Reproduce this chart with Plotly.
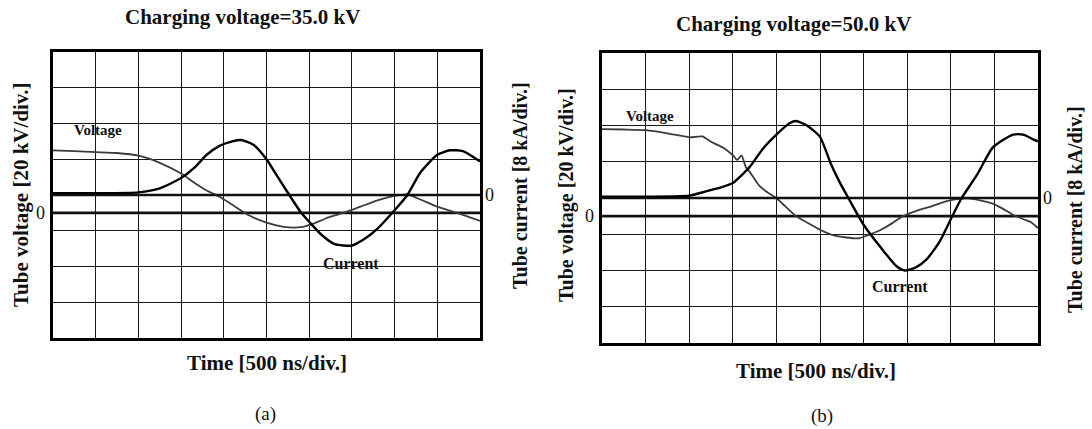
import plotly.graph_objects as go

W, H = 1092, 429

# ---------------- data (time in ns, 500 ns/div) ----------------
# Panel (a): charging voltage 35.0 kV
a_volt_t = [0, 250, 500, 750, 1000, 1250, 1500, 1650, 1800, 1950, 2100, 2300, 2500, 2700, 2900,
            3050, 3200, 3400, 3600, 3800, 4000, 4150, 4300, 4500, 4700, 4850, 5000]
a_volt_kv = [35, 34.5, 34, 33.5, 32, 28, 22, 17, 12.5, 9, 4.5, -1.5, -5.5, -7.8, -8,
             -6, -3, 0, 3.5, 7, 9.5, 10.3, 7.5, 3.5, 0.5, -2, -4.5]
a_curr_t = [0, 500, 1000, 1250, 1500, 1650, 1800, 1950, 2100, 2200, 2350, 2500, 2600, 2750, 2900,
            3000, 3150, 3300, 3500, 3650, 3800, 4000, 4150, 4300, 4500, 4650, 4800, 5000]
a_curr_ka = [0.4, 0.4, 0.6, 1.5, 3.8, 6, 9, 11, 12, 12.3, 11.2, 8, 5, 0.5, -3.8,
             -6, -9, -11, -11.3, -9.8, -7.5, -3.4, 0, 5, 9, 10, 9.8, 7.5]

# Panel (b): charging voltage 50.0 kV
b_volt_t = [0, 250, 500, 750, 1000, 1150, 1250, 1400, 1500, 1550, 1600, 1650, 1700, 1800, 1900,
            2000, 2100, 2225, 2350, 2500, 2650, 2800, 2950, 3050, 3200, 3325, 3450, 3600, 3750,
            3900, 4050, 4225, 4350, 4475, 4600, 4725, 4850, 4925, 5000]
b_volt_kv = [48, 47.8, 47.4, 45.7, 43.5, 44, 41, 37.5, 33.6, 31, 33.5, 27, 24, 17, 13,
             10, 5.5, 0, -3.5, -7.5, -10.5, -11.8, -12.2, -10.5, -7.5, -4, 0, 2.8, 5,
             7.5, 9.2, 9.7, 8.5, 7, 4, 0.5, -2, -3.5, -6.6]
b_curr_t = [0, 500, 1000, 1200, 1375, 1500, 1600, 1700, 1850, 2000, 2150, 2225, 2350, 2500,
            2625, 2725, 2825, 3000, 3200, 3375, 3475, 3600, 3725, 3875, 4025, 4125, 4300,
            4475, 4575, 4715, 4830, 4950, 5000]
b_curr_ka = [0.3, 0.3, 0.5, 1.5, 2.4, 3.3, 5.0, 7.0, 11, 14, 16.5, 17, 16, 13.5,
             7.5, 3.5, 0, -5.9, -11, -15, -16, -15.3, -13.5, -9.5, -3.7, 0, 5.1,
             11, 12.5, 14, 14, 12.9, 12.5]

zero_t = [0, 5000]
zero_level = [0, 0]

titles = ["Charging voltage=35.0 kV", "Charging voltage=50.0 kV"]
volt_title = "Tube voltage [20 kV/div.]"
curr_title = "Tube current [8 kA/div.]"
time_title = "Time [500 ns/div.]"
panel_tags = ["(a)", "(b)"]

# ---------------- layout geometry ----------------
panels = [
    dict(x0=53, x1=480, y0=52, y1=338),
    dict(x0=602, x1=1038, y0=53, y1=343),
]

def px(x):
    return x / W

def py(y):
    return 1 - y / H

fig = go.Figure()

VOLT_RANGE = [-70, 90]     # 8 div x 20 kV, zero half a division below centre
CURR_RANGE = [-32, 32]     # 8 div x 8 kA, zero at centre

data = [
    (a_volt_t, a_volt_kv, a_curr_t, a_curr_ka),
    (b_volt_t, b_volt_kv, b_curr_t, b_curr_ka),
]

for i, (vt, vv, ct, cv) in enumerate(data):
    xa = "x" if i == 0 else "x2"
    yv = "y" if i == 0 else "y3"
    yc = "y2" if i == 0 else "y4"
    # baselines
    fig.add_trace(go.Scatter(x=zero_t, y=zero_level, xaxis=xa, yaxis=yc, mode="lines",
                             line=dict(color="#111", width=2.6), hoverinfo="skip"))
    fig.add_trace(go.Scatter(x=zero_t, y=zero_level, xaxis=xa, yaxis=yv, mode="lines",
                             line=dict(color="#111", width=2.6), hoverinfo="skip"))
    # voltage
    fig.add_trace(go.Scatter(x=vt, y=vv, xaxis=xa, yaxis=yv, mode="lines",
                             line=dict(color="#3c3c3c", width=1.8, shape="spline", smoothing=0.6),
                             name="Voltage"))
    # current
    fig.add_trace(go.Scatter(x=ct, y=cv, xaxis=xa, yaxis=yc, mode="lines",
                             line=dict(color="#000", width=2.4, shape="spline", smoothing=0.6),
                             name="Current"))

grid = dict(showgrid=True, gridcolor="#1a1a1a", gridwidth=1.2, zeroline=False,
            showticklabels=False, ticks="", showline=True, linecolor="#000",
            linewidth=3, mirror=True, fixedrange=True)

for i, p in enumerate(panels):
    xd = [px(p["x0"]), px(p["x1"])]
    yd = [py(p["y1"]), py(p["y0"])]
    xn = "xaxis" if i == 0 else "xaxis2"
    yvn = "yaxis" if i == 0 else "yaxis3"
    ycn = "yaxis2" if i == 0 else "yaxis4"
    yv = "y" if i == 0 else "y3"
    xa = "x" if i == 0 else "x2"
    fig.layout[xn] = dict(domain=xd, range=[0, 5000], tick0=0, dtick=500, anchor=yv, **grid)
    fig.layout[yvn] = dict(domain=yd, range=VOLT_RANGE, tick0=10, dtick=20, anchor=xa, **grid)
    fig.layout[ycn] = dict(domain=yd, range=CURR_RANGE, overlaying=yv, anchor=xa, side="right",
                           showgrid=False, zeroline=False, showticklabels=False, ticks="",
                           showline=False, fixedrange=True)

ser = "Liberation Serif"
ann = []

def text(x, y, s, size, bold=False, angle=0, family=ser, **kw):
    ann.append(dict(x=px(x), y=py(y), xref="paper", yref="paper", showarrow=False,
                    text=f"<b>{s}</b>" if bold else s, textangle=angle,
                    font=dict(family=family, size=size, color="#111"),
                    xanchor="center", yanchor="middle", **kw))

# panel (a)
text(242, 17, titles[0], 21, bold=True)
text(21, 195, volt_title, 21, bold=True, angle=-90)
text(520, 186, curr_title, 20, bold=True, angle=-90)
text(267, 363, time_title, 21, bold=True)
text(265, 414, panel_tags[0], 19)
text(98, 130, "Voltage", 15, bold=True)
text(351, 263, "Current", 16, bold=True)
# panel (b)
text(793, 24, titles[1], 21, bold=True)
text(566, 195, volt_title, 20, bold=True, angle=-90)
text(1075, 210, curr_title, 20, bold=True, angle=-90)
text(816, 371, time_title, 21, bold=True)
text(822, 416, panel_tags[1], 19)
text(650, 116, "Voltage", 15, bold=True)
text(900, 286, "Current", 16, bold=True)

# zero labels (data-referenced vertically)
for i, p in enumerate(panels):
    yv = "y" if i == 0 else "y3"
    yc = "y2" if i == 0 else "y4"
    lx = 40 if i == 0 else 589
    rx = 489 if i == 0 else 1047
    ann.append(dict(x=px(lx), y=0, xref="paper", yref=yv, showarrow=False, text="0",
                    font=dict(family=ser, size=18, color="#111"), xanchor="center", yanchor="middle"))
    ann.append(dict(x=px(rx), y=0, xref="paper", yref=yc, showarrow=False, text="0",
                    font=dict(family=ser, size=18, color="#111"), xanchor="center", yanchor="middle"))

fig.update_layout(width=W, height=H, margin=dict(l=0, r=0, t=0, b=0),
                  paper_bgcolor="white", plot_bgcolor="white", showlegend=False,
                  annotations=ann)

fig.write_html("out.html", config={"displayModeBar": False})
